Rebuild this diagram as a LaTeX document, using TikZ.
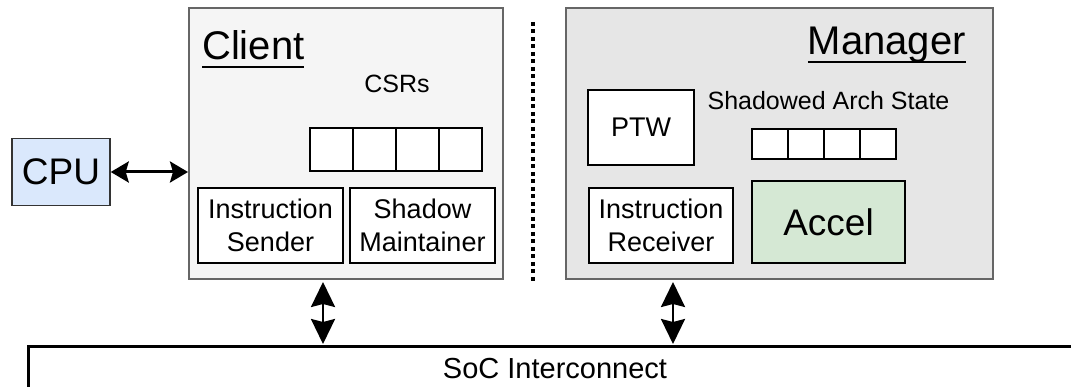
\documentclass[tikz,border=0pt]{standalone}
\usepackage{fontspec}
\setmainfont{Liberation Sans}
\usetikzlibrary{arrows.meta}
\definecolor{clientfill}{HTML}{F5F5F5}
\definecolor{managerfill}{HTML}{E6E6E6}
\definecolor{cpufill}{HTML}{DAE8FC}
\definecolor{accelfill}{HTML}{D5E8D4}
\definecolor{framegray}{HTML}{666666}
\newcommand{\fsz}[2]{\fontsize{#1}{#2}\selectfont}
\newsavebox{\ttlbox}
\newcommand{\ulttl}[1]{\sbox{\ttlbox}{#1}\rlap{\rule[-8.5pt]{\wd\ttlbox}{2pt}}\usebox{\ttlbox}}
\tikzset{
	cpuhead/.tip={Stealth[length=18pt,width=21pt,inset=3pt]},
	bushead/.tip={Stealth[length=25pt,width=24pt,inset=3pt]},
	side/.style={draw=framegray, line width=2pt, inner sep=0pt},
	unit/.style={draw=black, line width=1.5pt, fill=white, inner sep=0pt, align=center, font=\fsz{27pt}{33pt}},
	reg/.style={draw=black, line width=1.5pt, fill=white, inner sep=0pt},
	lbl/.style={inner sep=0pt, anchor=base},
	title/.style={inner sep=0pt, font=\fsz{40pt}{48pt}},
	biarrow/.style={cpuhead-cpuhead, line width=3pt},
	busarrow/.style={bushead-bushead, line width=2.5pt}
}
\begin{document}
\begin{tikzpicture}[x=1pt, y=-1pt]
	\useasboundingbox (0,0) rectangle (1071,387);
	\clip (0,0) rectangle (1071,387);
%	\draw [help lines, step=50] (0,0) grid (1071,387);
	\node [side, fill=clientfill, minimum width=314pt, minimum height=271pt] (client) at (346,143.5) {};
	\node [side, fill=managerfill, minimum width=427pt, minimum height=271pt] (manager) at (779.5,143.5) {};
	\node [draw=black!80, line width=1.5pt, fill=cpufill, inner sep=0pt, minimum width=98pt, minimum height=67pt, font=\fsz{37pt}{44pt}] (cpu) at (61,172) {CPU};
	\node [draw=black, line width=2.5pt, inner sep=0pt, minimum width=1100pt, minimum height=100pt, anchor=north west] (soc) at (27,345) {};
	\node [lbl, font=\fsz{29pt}{35pt}] (soctxt) at (555,378) {SoC Interconnect};

	% client side
	\node [title, anchor=base west] (clienttl) at (202,60) {\ulttl{Client}};
	\node [lbl, font=\fsz{25pt}{30pt}] (csrtxt) at (397,93) {CSRs};
	\foreach \i in {0,...,3}
		\node [reg, minimum size=43pt] (csr\i) at (331.5+43*\i,149.5) {};
	\node [unit, minimum width=145pt, minimum height=75pt] (sender) at (270.5,225.5) {Instruction\\Sender};
	\node [unit, minimum width=145pt, minimum height=75pt] (maint) at (422.5,225.5) {Shadow\\Maintainer};

	% manager side
	\node [title, anchor=base east] (managertl) at (966,55) {\ulttl{Manager}};
	\node [unit, minimum width=106pt, minimum height=75pt] (ptw) at (641,127.5) {PTW};
	\node [lbl, font=\fsz{25pt}{30pt}] (archtxt) at (828.5,110) {Shadowed Arch State};
	\foreach \i in {0,...,3}
		\node [reg, minimum width=36pt, minimum height=30pt] (arch\i) at (770+36*\i,144) {};
	\node [unit, minimum width=144pt, minimum height=75pt] (receiver) at (661,225.5) {Instruction\\Receiver};
	\node [unit, fill=accelfill, minimum width=153pt, minimum height=82pt, font=\fsz{37pt}{44pt}] (accel) at (828.5,222) {Accel};

	\draw [line width=4.5pt, dash pattern=on 4pt off 3.5pt] (533,22) -- (533,284);
	\draw [biarrow] (cpu.east) -- (cpu.east -| client.west);
	\draw [busarrow, shorten <=2pt, shorten >=1pt] (client.south -| 323,0) -- (soc.north -| 323,0);
	\draw [busarrow, shorten <=2pt, shorten >=1pt] (manager.south -| 673,0) -- (soc.north -| 673,0);
\end{tikzpicture}
\end{document}
